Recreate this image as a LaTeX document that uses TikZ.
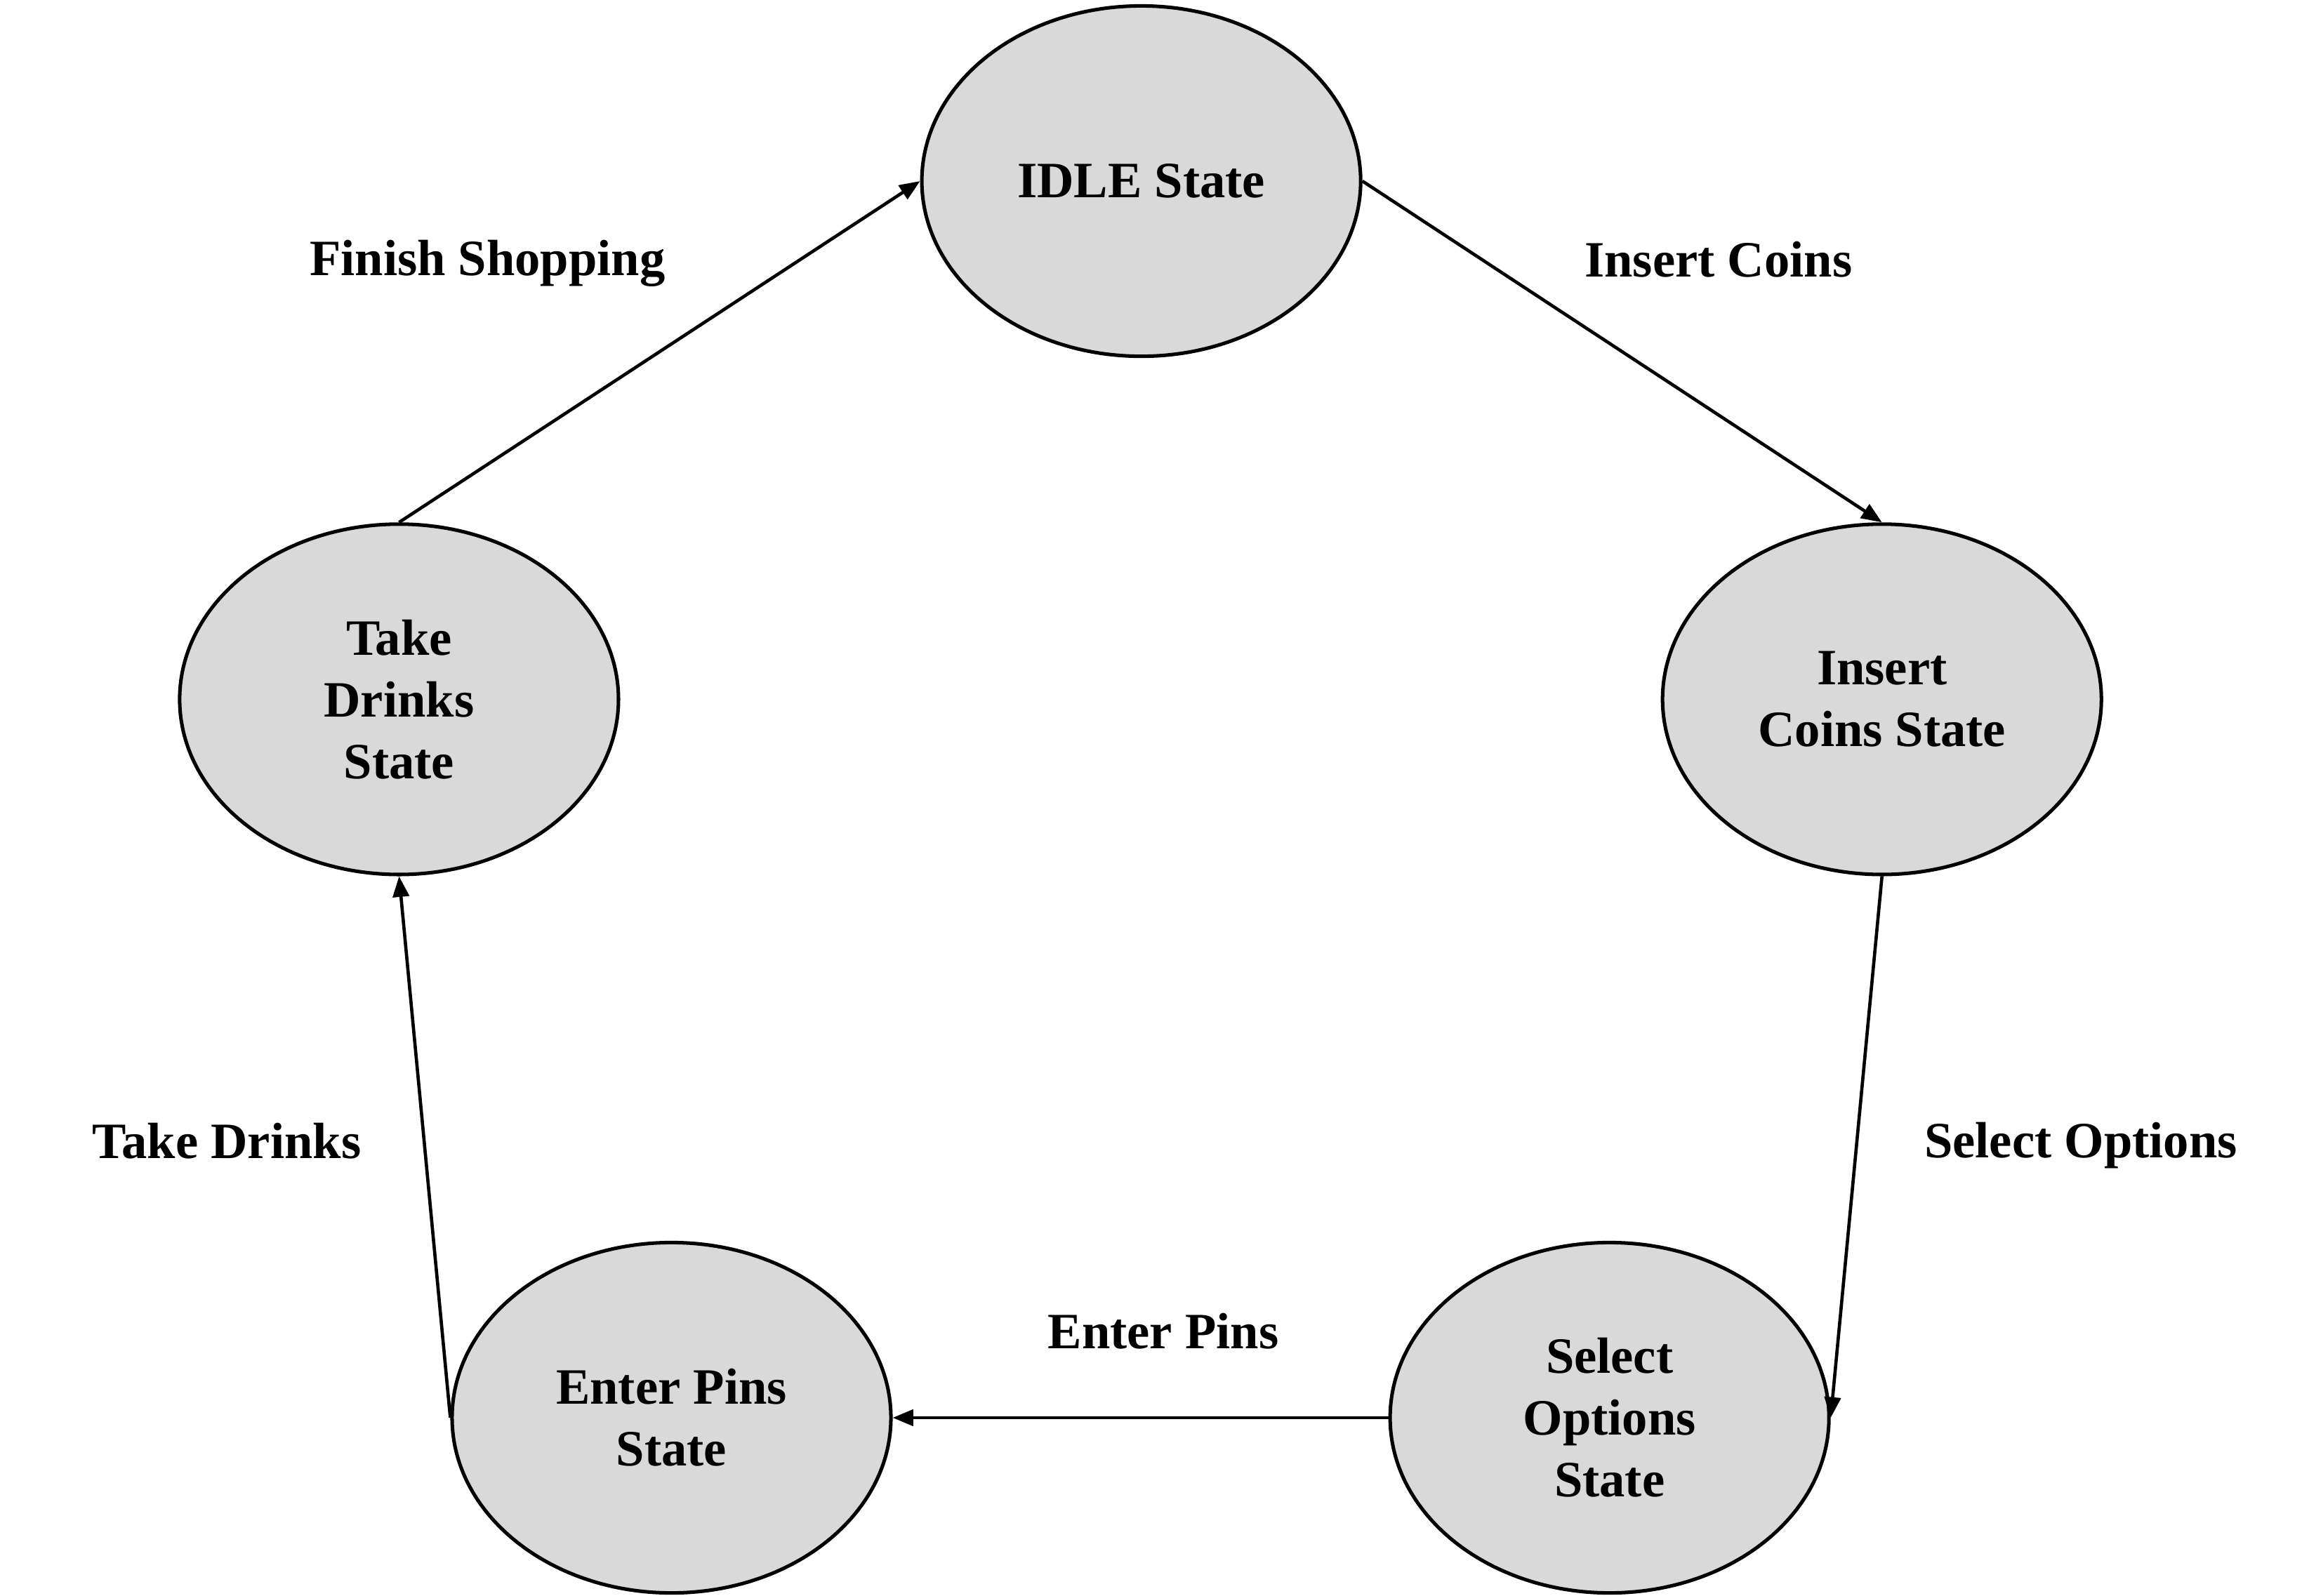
\documentclass[tikz,border=0pt]{standalone}
\usepackage{fontspec}
\setmainfont{Liberation Serif}
\usetikzlibrary{shapes.geometric,arrows.meta}
\definecolor{stategray}{HTML}{D9D9D9}
\begin{document}
\begin{tikzpicture}[x=0.5pt,y=-0.5pt,
  state/.style={ellipse,draw,line width=1.2pt,fill=stategray,minimum width=149pt,minimum height=119pt,inner sep=0pt,align=center,font=\bfseries\fontsize{17.3}{21}\selectfont},
  lbl/.style={inner sep=0pt,font=\bfseries\fontsize{17.3}{21}\selectfont},
  conn/.style={-{Triangle[length=7pt,width=5.5pt]},line width=1.1pt}]
\useasboundingbox (0,0) rectangle (1568,1084);
\node[state] (idle) at (775,123) {IDLE State};
\node[state] (coins) at (1278,475) {Insert\\Coins State};
\node[state] (select) at (1093,963) {Select\\Options\\State};
\node[state] (pins) at (456,963) {Enter Pins\\State};
\node[state] (take) at (271,475) {Take\\Drinks\\State};
\draw[conn] (take.north) -- (idle.west);
\draw[conn] (idle.east) -- (coins.north);
\draw[conn] (coins.south) -- (select.east);
\draw[conn] (select.west) -- (pins.east);
\draw[conn] (pins.west) -- (take.south);
\node[lbl] (l1) at (331,179) {Finish Shopping};
\node[lbl] (l2) at (1167,176) {Insert Coins};
\node[lbl] (l3) at (1413,778) {Select Options};
\node[lbl] (l4) at (790,904) {Enter Pins};
\node[lbl] (l5) at (154,775) {Take Drinks};
\end{tikzpicture}
\end{document}
